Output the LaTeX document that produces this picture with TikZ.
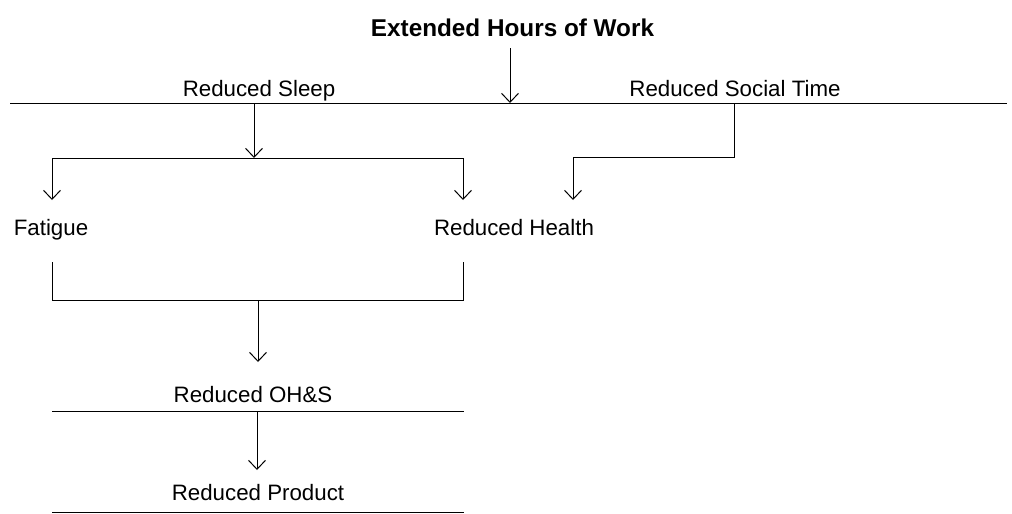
\documentclass[tikz,border=0pt]{standalone}
\usepackage{fontspec}
\setmainfont{Liberation Sans}
\usetikzlibrary{arrows.meta}
\begin{document}
\begin{tikzpicture}[x=1pt,y=-1pt,line width=1pt,
  lbl/.style={anchor=base,inner sep=0pt,font=\fontsize{22.3}{25}\selectfont},
  ttl/.style={anchor=base,inner sep=0pt,font=\bfseries\fontsize{24.3}{27}\selectfont},
  arr/.style={-{Straight Barb[length=9pt,width=17pt,line width=1pt]}},
  rule/.style={line width=1pt}]
\useasboundingbox (0,0) rectangle (1012,514);
% texts
\node[ttl] (title) at (512.5,36) {Extended Hours of Work};
\node[lbl] (sleep) at (259,96) {Reduced Sleep};
\node[lbl] (social) at (735,96) {Reduced Social Time};
\node[lbl] (fatigue) at (51,235) {Fatigue};
\node[lbl] (health) at (514,235) {Reduced Health};
\node[lbl] (ohs) at (253,402) {Reduced OH\&S};
\node[lbl] (product) at (258,500) {Reduced Product};
% coordinates
\coordinate (tstart) at (510,48);
\coordinate (tend) at (510,103);
\coordinate (rl) at (10,103);
\coordinate (rr) at (1007,103);
\coordinate (s0) at (254,103);
\coordinate (s1) at (254,158);
\coordinate (bl) at (52,158);
\coordinate (br) at (463,158);
\coordinate (fa) at (52,200);
\coordinate (ha) at (463,200);
\coordinate (c0) at (734,103);
\coordinate (c1) at (734,157);
\coordinate (c2) at (573,157);
\coordinate (c3) at (573,200);
\coordinate (j0) at (52,262);
\coordinate (j1) at (52,300);
\coordinate (j2) at (463,300);
\coordinate (j3) at (463,262);
\coordinate (m0) at (258,300);
\coordinate (m1) at (258,362);
\coordinate (ol) at (52,411);
\coordinate (or) at (464,411);
\coordinate (o0) at (257,411);
\coordinate (o1) at (257,470);
\coordinate (pl) at (52,512);
\coordinate (pr) at (464,512);
% connectors
\draw[rule] (rl) -- (rr);
\draw[arr] (tstart) -- (tend);
\draw[arr] (s0) -- (s1);
\draw[rule] (bl) -- (br);
\draw[arr] (bl) -- (fa);
\draw[arr] (br) -- (ha);
\draw[arr] (c0) -- (c1) -- (c2) -- (c3);
\draw[rule] (j0) -- (j1) -- (j2) -- (j3);
\draw[arr] (m0) -- (m1);
\draw[rule] (ol) -- (or);
\draw[arr] (o0) -- (o1);
\draw[rule] (pl) -- (pr);
\end{tikzpicture}
\end{document}
